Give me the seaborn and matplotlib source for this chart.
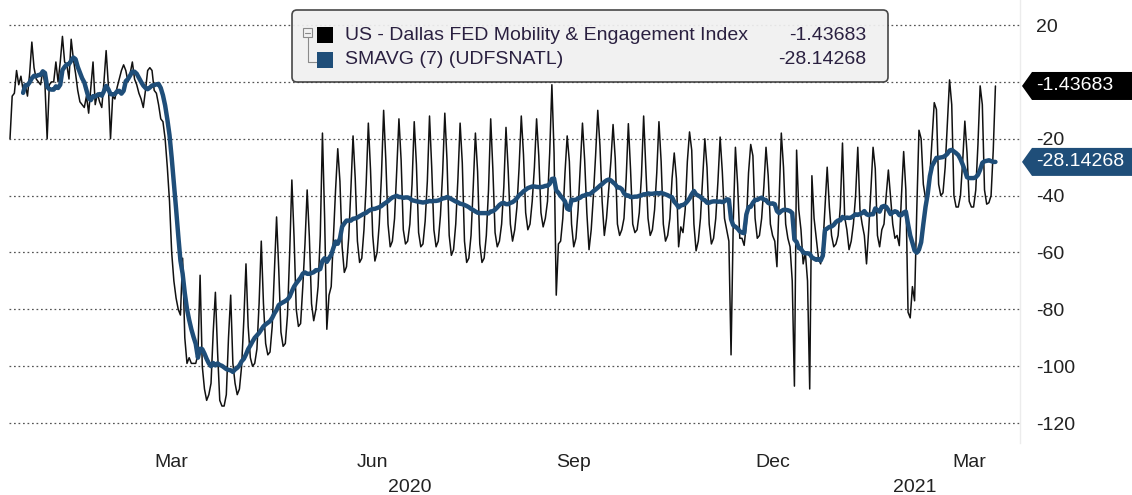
import numpy as np
import pandas as pd
import matplotlib
matplotlib.use("Agg")
import matplotlib.pyplot as plt
import matplotlib.dates as mdates
import matplotlib.transforms as mtransforms
from matplotlib.patches import FancyBboxPatch, Polygon, Rectangle
from matplotlib.lines import Line2D
import seaborn as sns

# ---------------- data (daily index values) ----------------
jan20 = [-20, -5, -4, 4, -1, 2, -3, -1, -5, 3, 14, 5, 1, 0, -1, 4, -1, -20, -1, 0,
         0, 7, 0, 7, 16, 7, 6, 1, 15, 8, 3]
feb20 = [-3, -7, -8, -9, -5, -11, -2, 7, -8, -4, -7, -9, 0, 11, -1, -20, -5, -6, -2, 1,
         4, 6, 4, 0, 3, 7, 1, -1, -4]
mar20 = [-6, -9, -3, 4, 5, 4, -3, -4, -8, -13, -14, -20, -30, -42, -60, -70, -76, -80,
         -82, -62, -90, -99, -97, -99, -99, -99, -96, -68, -100, -108, -112]
apr20 = [-110, -106, -88, -74, -95, -112, -114, -114, -110, -90, -75, -99, -106, -110,
         -108, -100, -84, -64, -86, -97, -100, -99, -94, -78, -56, -78, -92, -96, -95, -86]
may20 = [-67, -47.5, -66, -88, -93, -92, -82, -60, -34.5, -54.5, -80, -86, -85, -72, -57,
         -38, -54.5, -78, -84, -80, -72, -54, -18, -48, -87, -75, -72, -55, -38, -23.5, -35]
jun20 = [-58, -67, -65, -55, -38, -19, -34, -56, -63.5, -62, -52, -36, -14.5, -31, -54,
         -63, -60, -50, -33, -10, -27.5, -50, -58, -56, -48, -31, -13, -27.5, -52, -57]
jul20 = [-56, -50, -36, -14, -29, -53, -58, -57, -49, -35, -12, -30, -52, -58, -56, -47,
         -32, -11, -27.5, -54, -61, -59, -50, -34, -14.5, -28.5, -56, -63.5, -62, -54, -37]
aug20 = [-18, -31.5, -57, -63.5, -62, -54, -38, -13, -31, -53, -58, -56, -50, -37, -16,
         -31, -50, -56, -52, -44, -30, -12, -25.5, -46, -52, -50, -42, -30, -13, -26, -46]
sep20 = [-51, -48, -42, -25, -1, -25, -75, -57, -56, -48, -32, -19, -28, -50, -58, -55,
         -45, -30, -14.5, -27.5, -46, -59, -52, -40, -26, -10, -22.5, -42, -54, -48]
oct20 = [-38, -28, -15, -27, -50, -54, -52, -48, -34, -14.7, -30.8, -50, -53, -52, -46,
         -33, -12, -30.5, -48, -54, -52, -45, -32, -14, -28, -50, -56, -54, -48, -34, -25]
nov20 = [-34, -58, -51, -53, -45, -28, -17.6, -24, -50, -59.4, -56, -48, -34, -20, -30.1,
         -50, -57, -55, -48, -35, -19.4, -31.6, -48, -52, -56, -96, -50, -23, -36, -55]
dec20 = [-55, -57.5, -50, -32, -22, -26, -48, -55, -54, -48, -37, -23, -33, -50, -54, -56,
         -65, -42, -18, -30, -50, -55, -58, -70, -107, -24, -45, -52, -64, -60, -70]
jan21 = [-108, -33, -48, -55, -62, -64, -58, -44, -30, -44, -54, -58, -57, -54, -44,
         -21.5, -47.5, -52, -59, -56, -50, -40, -23, -45, -50, -54, -64, -52, -38, -23, -30.5]
feb21 = [-54, -58, -52, -50, -40, -31, -40.5, -50, -55, -54, -57.6, -40, -24.5, -38, -81,
         -83, -72, -77, -45, -17, -20, -36, -41, -40, -33, -20, -7.3, -9.7]
mar21 = [-36, -40, -39, -30, -15, 0.7, -8, -40, -44, -44, -40, -28, -13.8, -25, -42, -44,
         -44, -38, -22, -1.4, -8, -38, -43, -42.5, -40, -24.06193, -1.43683]

start_date = "2020-01-01"
series_name = "US - Dallas FED Mobility & Engagement Index"
sma_name = "SMAVG (7) (UDFSNATL)"
sma_window = 7
month_labels = ["Mar", "Jun", "Sep", "Dec", "Mar"]
month_label_dates = ["2020-03-15", "2020-06-15", "2020-09-15", "2020-12-15", "2021-03-15"]
year_labels = ["2020", "2021"]
y_ticks = [20, 0, -20, -40, -60, -80, -100, -120]
y_tick_labels = ["20", "", "-20", "-40", "-60", "-80", "-100", "-120"]

# ---------------- build frame ----------------
values = (jan20 + feb20 + mar20 + apr20 + may20 + jun20 + jul20 + aug20 + sep20 +
          oct20 + nov20 + dec20 + jan21 + feb21 + mar21)
dates = pd.date_range(start_date, periods=len(values), freq="D")
df = pd.DataFrame({"date": dates, "mei": values})
df["sma"] = df["mei"].rolling(sma_window).mean()
last_val = df["mei"].iloc[-1]
last_sma = df["sma"].iloc[-1]

# ---------------- style ----------------
sns.set_theme(style="white")
plt.rcParams["font.family"] = ["Liberation Sans", "DejaVu Sans"]
plt.rcParams["axes.unicode_minus"] = False

W, H = 1132, 495
fig = plt.figure(figsize=(W / 100, H / 100), dpi=100)
fig.patch.set_facecolor("white")
ax_l, ax_r, ax_t, ax_b = 9, 1020, 0, 443
ax = fig.add_axes([ax_l / W, 1 - ax_b / H, (ax_r - ax_l) / W, (ax_b - ax_t) / H])
ax.set_facecolor("white")

BLUE = "#1f4e79"
TXT = "#222222"
LEG_TXT = "#2a2040"

sns.lineplot(data=df, x="date", y="mei", ax=ax, color="#111111", lw=1.1, zorder=3)
sns.lineplot(data=df, x="date", y="sma", ax=ax, color=BLUE, lw=3.2, zorder=4)

d0 = mdates.date2num(pd.Timestamp(start_date))
px_per_day = 2.185
ax.set_xlim(d0 - 1 / px_per_day, d0 + (ax_r - 10) / px_per_day)
ax.set_ylim(-127.0, 28.8)

# grid
ax.set_yticks(y_ticks)
ax.set_yticklabels(y_tick_labels)
ax.yaxis.tick_right()
ax.grid(False)
for v in y_ticks:
    ax.axhline(v, color="#555555", lw=0.9, ls=(0, (1.4, 2.2)), zorder=1)
ax.tick_params(axis="y", length=0, pad=11.5, labelsize=14, colors=TXT)

ax.set_xticks([mdates.date2num(pd.Timestamp(d)) for d in month_label_dates])
ax.set_xticklabels(month_labels)
ax.tick_params(axis="x", length=0, pad=8, labelsize=14, colors=TXT)
ax.set_xlabel("")
ax.set_ylabel("")

for s in ["top", "left", "bottom"]:
    ax.spines[s].set_visible(False)
ax.spines["right"].set_color("#ececec")
ax.spines["right"].set_linewidth(1.0)

# year labels centred under each year's span
xmin, xmax = ax.get_xlim()
y2021 = mdates.date2num(pd.Timestamp("2021-01-01"))
for lab, (a, b) in zip(year_labels, [(xmin, y2021), (y2021, xmax)]):
    ax.text((a + b) / 2, -(487 - ax_b) / (ax_b - ax_t), lab, transform=ax.get_xaxis_transform(),
            ha="center", va="center", fontsize=14, color=TXT)

# ---------------- value tags on right ----------------
ytr = ax.get_yaxis_transform()
axw = ax_r - ax_l
half_h = 14 / ((ax_b - ax_t) / (28.8 + 127.0))
def tag(v, color, text):
    x_tip = (1022 - ax_l) / axw
    x_n = (1032 - ax_l) / axw
    x_end = (1140 - ax_l) / axw
    poly = Polygon([(x_tip, v), (x_n, v + half_h), (x_end, v + half_h), (x_end, v - half_h),
                    (x_n, v - half_h)], closed=True, transform=ytr, facecolor=color,
                   edgecolor="none", clip_on=False, zorder=20)
    ax.add_patch(poly)
    ax.text((1036 - ax_l) / axw, v, text, transform=ytr, ha="left", va="center",
            fontsize=14, color="white", clip_on=False, zorder=21)

tag(last_val, "black", f"{last_val:.5f}")
tag(last_sma, BLUE, f"{last_sma:.5f}")

# ---------------- legend box (Bloomberg style) ----------------
T = mtransforms.Affine2D().scale(1, -1).translate(0, H)
box = FancyBboxPatch((292, 10), 596, 72, boxstyle="round,pad=0,rounding_size=5",
                     transform=T, facecolor="#f0f0f0", edgecolor="#3a3a3a", lw=1.2,
                     alpha=0.93, zorder=30)
fig.add_artist(box)
fig.add_artist(Rectangle((303, 28), 9, 9, fill=False, edgecolor="#8a8a8a", lw=0.8,
                         transform=T, zorder=31))
fig.add_artist(Line2D([305, 310], [32.5, 32.5], color="#8a8a8a", lw=0.8, transform=T, zorder=31))
fig.add_artist(Line2D([307.5, 307.5, 317], [37, 62, 62], color="#8a8a8a", lw=0.8,
                      transform=T, zorder=31))
fig.add_artist(Rectangle((317, 27), 16, 16, facecolor="black", edgecolor="none",
                         transform=T, zorder=31))
fig.add_artist(Rectangle((317, 52), 16, 16, facecolor=BLUE, edgecolor="none",
                         transform=T, zorder=31))
fig.text(345, 35, series_name, transform=T, ha="left", va="center", fontsize=14,
         color=LEG_TXT, zorder=32)
fig.text(866, 35, f"{last_val:.5f}", transform=T, ha="right", va="center", fontsize=14,
         color=LEG_TXT, zorder=32)
fig.text(345, 60, sma_name, transform=T, ha="left", va="center", fontsize=14,
         color=LEG_TXT, zorder=32)
fig.text(866, 60, f"{last_sma:.5f}", transform=T, ha="right", va="center", fontsize=14,
         color=LEG_TXT, zorder=32)

fig.savefig("out.png", dpi=100, facecolor="white")
